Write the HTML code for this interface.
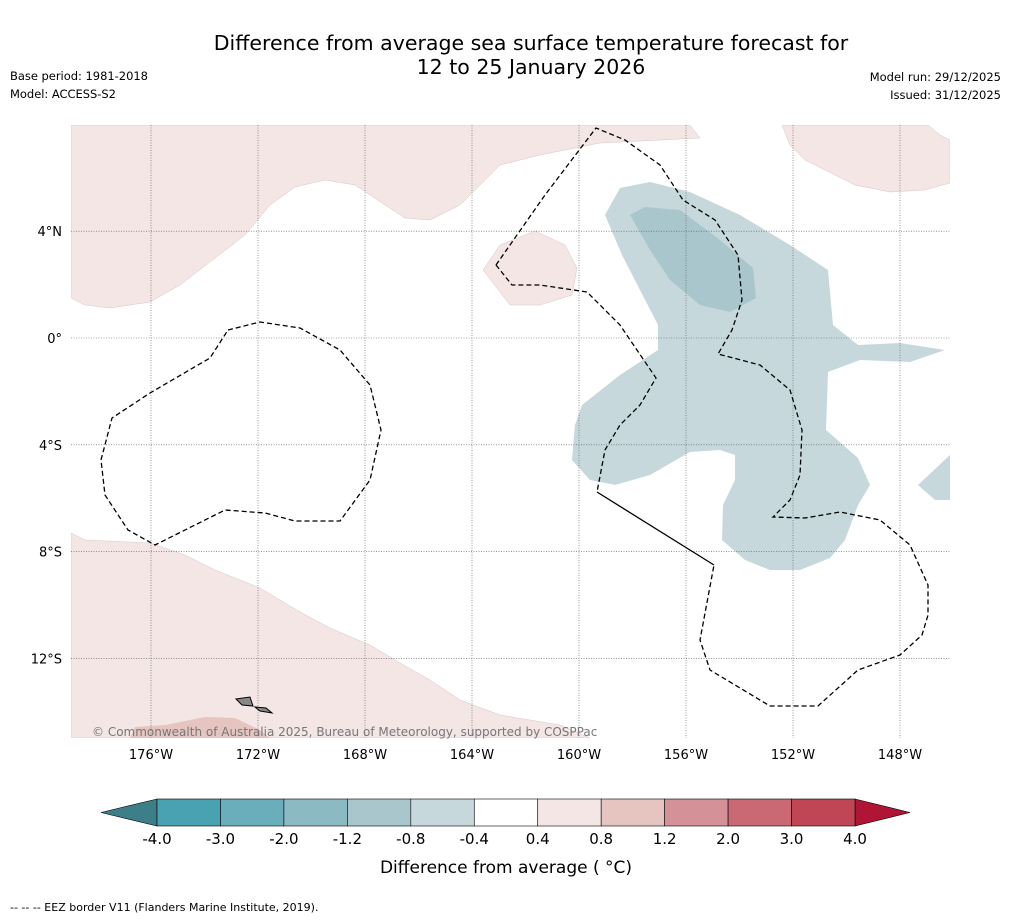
<!DOCTYPE html>
<html><head><meta charset="utf-8"><style>
body{margin:0;background:#fff;font-family:"Liberation Sans",sans-serif;}
svg text{font-family:"DejaVu Sans","Liberation Sans",sans-serif;}
</style></head><body>
<svg width="1011" height="919" viewBox="0 0 1011 919">
<text x="531" y="50" font-size="20.5" text-anchor="middle">Difference from average sea surface temperature forecast for</text>
<text x="531" y="74" font-size="20.5" text-anchor="middle">12 to 25 January 2026</text>
<text x="10" y="80" font-size="11.5" textLength="138">Base period: 1981-2018</text>
<text x="10" y="98" font-size="11.5" textLength="106">Model: ACCESS-S2</text>
<text x="1001" y="81" font-size="11.5" text-anchor="end">Model run: 29/12/2025</text>
<text x="1001" y="99" font-size="11.5" text-anchor="end">Issued: 31/12/2025</text>
<defs><clipPath id="mc"><rect x="71" y="125" width="879" height="613"/></clipPath></defs>
<g clip-path="url(#mc)">
<polygon fill="#f3e6e5" stroke="#d8c6c4" stroke-width="0.5" points="71,125 690,125 700,138 600,143 540,155 500,165 480,185 460,205 430,220 405,218 385,205 355,185 325,180 295,187 270,205 245,235 210,262 180,285 150,302 110,308 85,305 71,298"/>
<polygon fill="#f3e6e5" stroke="#d8c6c4" stroke-width="0.5" points="782,125 928,125 940,135 950,140 950,183 925,190 890,192 855,185 805,160 790,145"/>
<polygon fill="#f3e6e5" stroke="#d8c6c4" stroke-width="0.5" points="483,270 500,245 535,231 565,245 577,268 572,295 540,305 510,305"/>
<polygon fill="#f3e6e5" stroke="#d8c6c4" stroke-width="0.5" points="71,533 85,540 150,543 185,555 215,570 260,588 300,612 330,628 370,645 400,663 430,680 460,700 500,715 560,725 590,738 71,738"/>
<polygon fill="#e6c5c1" points="130,738 135,727 165,725 205,717 235,718 260,730 270,738"/>
<polygon fill="#c6d8dc" points="605,215 620,188 650,182 690,192 740,215 790,245 828,270 833,325 858,345 900,343 945,350 910,362 860,360 828,372 826,430 858,458 870,485 858,505 845,540 830,558 800,570 770,570 745,560 722,540 723,505 735,480 735,455 720,450 690,452 650,475 615,485 590,480 572,460 575,425 582,405 620,375 658,350 658,325 640,290 622,255"/>
<polygon fill="#a9c6cc" points="630,215 645,207 680,210 720,240 753,268 756,298 730,312 700,305 670,280 650,250"/>
<polygon fill="#c6d8dc" points="918,485 950,455 950,500 935,500"/>
<g id="grid" stroke="#555" stroke-width="0.6" stroke-dasharray="1,1.5"></g>
<polyline fill="none" stroke="#000" stroke-width="1.3" stroke-dasharray="5,3" points="228,330 260,322 300,328 340,350 370,385 381,430 370,480 340,521 295,521 265,513 225,510 155,545 128,530 105,495 101,460 112,418 150,393 210,358 228,330"/>
<polyline fill="none" stroke="#000" stroke-width="1.3" stroke-dasharray="5,3" points="496,265 545,195 596,128 625,140 660,165 683,200 715,220 738,255 742,300 732,330 718,354 760,365 790,390 802,430 800,475 790,500 773,517 805,518 840,512 880,520 910,545 928,585 928,615 922,635 900,655 858,670 818,706 770,706 710,670 700,640 714,565"/>
<polyline fill="none" stroke="#000" stroke-width="1.3" stroke-dasharray="5,3" points="496,265 512,285 540,285 587,292 620,325 656,378 640,405 620,425 605,450 597,492"/>
<line x1="597" y1="492" x2="714" y2="565" stroke="#000" stroke-width="1.3"/>
<polygon fill="#888" stroke="#000" points="236,699 250,697 253,706 242,705"/>
<polygon fill="#888" stroke="#000" points="255,707 266,708 272,713 260,711"/>
</g>
<text x="92" y="736" font-size="12" fill="#777">© Commonwealth of Australia 2025, Bureau of Meteorology, supported by COSPPac</text>
<g id="axes" font-size="13"></g>
<g id="cbar"></g>
<text x="506" y="873" font-size="17" text-anchor="middle">Difference from average ( °C)</text>
<text x="10" y="911" font-size="11">--  --  -- EEZ border V11 (Flanders Marine Institute, 2019).</text>
</svg>
<script>
const lonTicks=[-176,-172,-168,-164,-160,-156,-152,-148];
const latTicks=[4,0,-4,-8,-12];
const cbLevels=["-4.0","-3.0","-2.0","-1.2","-0.8","-0.4","0.4","0.8","1.2","2.0","3.0","4.0"];
const cbColors=["#48a2b2","#6aaebb","#8cbac3","#a9c6cc","#c6d8dc","#ffffff","#f3e6e5","#e6c5c1","#d59198","#ca6973","#c04656"];
const NS="http://www.w3.org/2000/svg";
const lx=l=>151+(l+176)*26.75, ly=l=>338-l*26.7;
const grid=document.getElementById('grid'),axes=document.getElementById('axes'),cb=document.getElementById('cbar');
function mk(tag,at,parent){const e=document.createElementNS(NS,tag);for(const k in at)e.setAttribute(k,at[k]);parent.appendChild(e);return e;}
lonTicks.forEach(l=>{
 const g=mk('line',{x1:lx(l),x2:lx(l),y1:125,y2:738},grid);
 
 
 const t=mk('text',{x:lx(l),y:759,'text-anchor':'middle'},axes);t.textContent=(-l)+'°W';
 
 
});
latTicks.forEach(l=>{
 const g=mk('line',{x1:71,x2:950,y1:ly(l),y2:ly(l)},grid);
 
 
 const t=mk('text',{x:62,y:ly(l)+5,'text-anchor':'end'},axes);t.textContent=l===0?'0°':Math.abs(l)+'°'+(l>0?'N':'S');
 
 
});
const x0=157,x1=855,w=(x1-x0)/cbColors.length,y0=799,h=27;
const lo=mk('polygon',{points:`${x0},${y0} 101,${y0+h/2} ${x0},${y0+h}`,fill:'#3d7f89',stroke:'#000','stroke-width':0.6},cb);


const hi=mk('polygon',{points:`${x1},${y0} 910,${y0+h/2} ${x1},${y0+h}`,fill:'#b01535',stroke:'#000','stroke-width':0.6},cb);


cbColors.forEach((c,i)=>{
 const r=mk('rect',{x:x0+i*w,y:y0,width:w,height:h,fill:c,stroke:'#000','stroke-width':0.6},cb);
 
 
});
cbLevels.forEach((s,i)=>{
 const t=mk('text',{x:x0+i*w,y:844,'font-size':15,'text-anchor':'middle'},cb);t.textContent=s;
 
 
});
</script>
</body></html>
